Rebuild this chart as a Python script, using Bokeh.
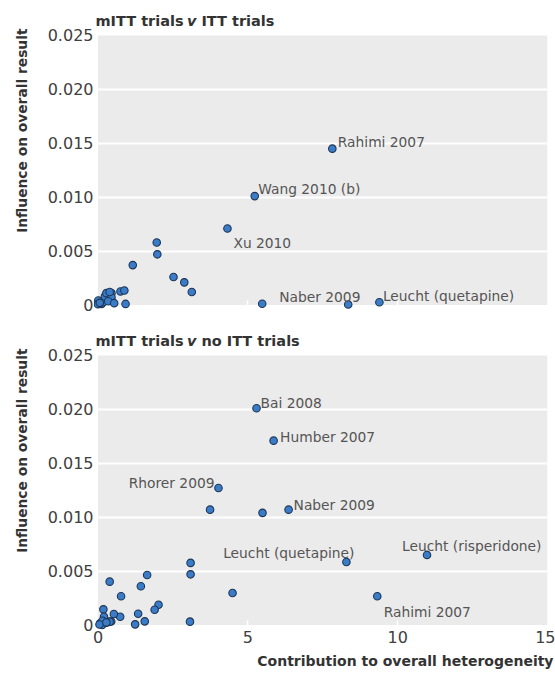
from bokeh.plotting import figure
from bokeh.layouts import column
from bokeh.models import (Range1d, FixedTicker, NumeralTickFormatter, ColumnDataSource,
                          Label, Title)
from bokeh.core.properties import value, field
from bokeh.embed import file_html
from bokeh.resources import INLINE

FONT = "DejaVu Sans"

# ---- axes ----
x_ticks = [0, 5, 10, 15]
x_minor = [5, 10]
y_ticks = [0, 0.005, 0.010, 0.015, 0.020, 0.025]

x_title = "Contribution to overall heterogeneity"
y_title = "Influence on overall result"

# ---- panel 1: mITT trials v ITT trials ----
p1_title = ["mITT trials", "v", "ITT trials"]
p1_x = [5.23, 4.32, 7.82, 9.39, 8.35, 5.48, 1.96, 1.98, 1.16, 2.52, 2.88, 3.13,
        0.92, 0.75, 0.88,
        0.01, 0.00, 0.12, 0.17, 0.23, 0.28, 0.45, 0.45, 0.34, 0.54, 0.39, 0.06]
p1_y = [0.0101, 0.0071, 0.0145, 0.00026, 0.00005, 0.00011, 0.0058, 0.0047, 0.0037,
        0.0026, 0.0021, 0.0012,
        0.0001, 0.00125, 0.00135,
        0.00042, 0.00008, 0.0001, 0.00026, 0.0008, 0.0011, 0.0011, 0.00072, 0.00035,
        0.00017, 0.0012, 0.0002]
p1_names = ["Rahimi 2007", "Wang 2010 (b)", "Xu 2010", "Naber 2009", "Leucht (quetapine)"]
p1_idx = [2, 0, 1, 5, 3]
p1_dx = [5.5, 3.5, 6, 17, 3.5]
p1_dy = [-6.5, -7.5, 15, -7, -6]
p1_align = ["left", "left", "left", "left", "left"]

# ---- panel 2: mITT trials v no ITT trials ----
p2_title = ["mITT trials", "v", "no ITT trials"]
p2_x = [5.29, 5.86, 4.02, 3.74, 5.49, 6.36, 8.29, 10.98, 9.32,
        3.09, 3.09, 4.49, 3.07, 1.64, 1.43, 0.39, 0.77, 2.02, 1.89, 1.34, 1.56, 1.24,
        0.74, 0.53, 0.18, 0.20,
        0.07, 0.14, 0.27, 0.44, 0.36, 0.15, 0.05, 0.39, 0.28]
p2_y = [0.0201, 0.0171, 0.0127, 0.0107, 0.0104, 0.0107, 0.00585, 0.0065, 0.00266,
        0.00576, 0.0047, 0.00297, 0.00031, 0.00464, 0.00359, 0.00402, 0.00266, 0.00188,
        0.00142, 0.00105, 0.00034, 0.00006,
        0.00077, 0.00102, 0.00145, 0.00077,
        0.00015, 0.0, 0.00021, 0.00033, 0.00028, 0.0004, 0.00005, 0.00031, 0.00024]
p2_names = ["Bai 2008", "Humber 2007", "Rhorer 2009", "Naber 2009",
            "Leucht (quetapine)", "Leucht (risperidone)", "Rahimi 2007"]
p2_idx = [0, 1, 2, 5, 6, 7, 8]
p2_dx = [4, 6.5, -4, 5, 8, -25, 6.5]
p2_dy = [-5.5, -4, -5, -5, -8.5, -8.5, 15.5]
p2_align = ["left", "left", "right", "left", "right", "left", "left"]

BG = "#EBEBEB"
TITLE_C = "#333333"
TICK_C = "#404040"
LAB_C = "#555555"

# view ranges: a little room below 0 / left of 0 so edge points are not clipped,
# and room above the grey panel for the panel title
X_LO = -0.15
Y_LO = -0.00051
Y_HI = 0.0275


def make_panel(xs, ys, names, idx, dx, dy, align, title, height, top, bottom, show_x):
    p = figure(width=555, height=height,
               x_range=Range1d(X_LO, x_ticks[-1]), y_range=Range1d(Y_LO, Y_HI),
               output_backend="svg", toolbar_location=None,
               min_border_left=92, min_border_right=8,
               min_border_top=top, min_border_bottom=bottom,
               background_fill_color="white", border_fill_color="white",
               outline_line_color=None)
    bg = p.quad(left=[x_ticks[0]], right=[x_ticks[-1]], bottom=[y_ticks[0]], top=[y_ticks[-1]],
                fill_color=BG, line_color=None)
    bg.level = "image"

    p.xgrid.visible = False
    p.ygrid.ticker = FixedTicker(ticks=y_ticks[1:-1])
    p.ygrid.grid_line_color = "white"
    p.ygrid.grid_line_width = 2

    # y axis
    ya = p.yaxis[0]
    ya.ticker = FixedTicker(ticks=y_ticks)
    ya.formatter = NumeralTickFormatter(format="0.000")
    ya.major_label_overrides = {0: "0"}
    ya.axis_line_color = None
    ya.major_tick_line_color = None
    ya.minor_tick_line_color = None
    ya.major_tick_out = 0
    ya.major_tick_in = 0
    ya.major_label_standoff = 0
    ya.major_label_text_font = FONT
    ya.major_label_text_font_size = "16px"
    ya.major_label_text_color = TICK_C

    # x axis
    xa = p.xaxis[0]
    xa.ticker = FixedTicker(ticks=x_ticks, minor_ticks=x_minor)
    xa.axis_line_color = None
    xa.major_tick_line_color = None
    xa.major_tick_out = 0
    xa.major_tick_in = 0
    xa.minor_tick_line_color = "white"
    xa.minor_tick_line_width = 1.5
    xa.minor_tick_in = 10
    xa.minor_tick_out = 0
    xa.major_label_standoff = 0
    xa.major_label_text_font = FONT
    if show_x:
        xa.major_label_text_font_size = "16px"
        xa.major_label_text_color = TICK_C
    else:
        xa.major_label_text_font_size = "1px"
        xa.major_label_text_color = None

    p.scatter(xs, ys, size=7.5, marker="circle", fill_color="#3B7CC8",
              line_color="#1E3654", line_width=1.1)

    src = ColumnDataSource(dict(
        x=[xs[i] for i in idx], y=[ys[i] for i in idx], text=names,
        dx=dx, dy=dy, align=align))
    p.text(x="x", y="y", text="text", source=src, x_offset=field("dx"), y_offset=field("dy"),
           text_align=field("align"), text_baseline="alphabetic",
           text_font=value(FONT), text_font_size="13.8px", text_color=LAB_C)

    # panel title (inside the frame, above the grey panel) with italic "v"
    offsets = [2, 93.6, 107.9]
    styles = ["bold", "bold italic", "bold"]
    for t, ox, st in zip(title, offsets, styles):
        p.add_layout(Label(x=ox, y=290, x_units="screen", y_units="screen", text=t,
                           text_font=FONT, text_font_size="14.5px", text_font_style=st,
                           text_color=TITLE_C, text_align="left", text_baseline="alphabetic"))

    # y axis title, aligned towards the top
    p.add_layout(Title(text=y_title, align="right", offset=20, standoff=26,
                       vertical_align="top", text_font=FONT, text_font_size="13.8px",
                       text_font_style="bold", text_color=TITLE_C), "left")
    if show_x:
        p.add_layout(Title(text=x_title, align="right", offset=-6, standoff=10,
                           vertical_align="bottom", text_font=FONT, text_font_size="14px",
                           text_font_style="bold", text_color=TITLE_C), "below")
    return p


p1 = make_panel(p1_x, p1_y, p1_names, p1_idx, p1_dx, p1_dy, p1_align, p1_title,
                326, 8, 16, False)
p2 = make_panel(p2_x, p2_y, p2_names, p2_idx, p2_dx, p2_dy, p2_align, p2_title,
                352, 2, 48, True)

layout = column(p1, p2, spacing=0)
open("out.html", "w").write(file_html(layout, INLINE))
